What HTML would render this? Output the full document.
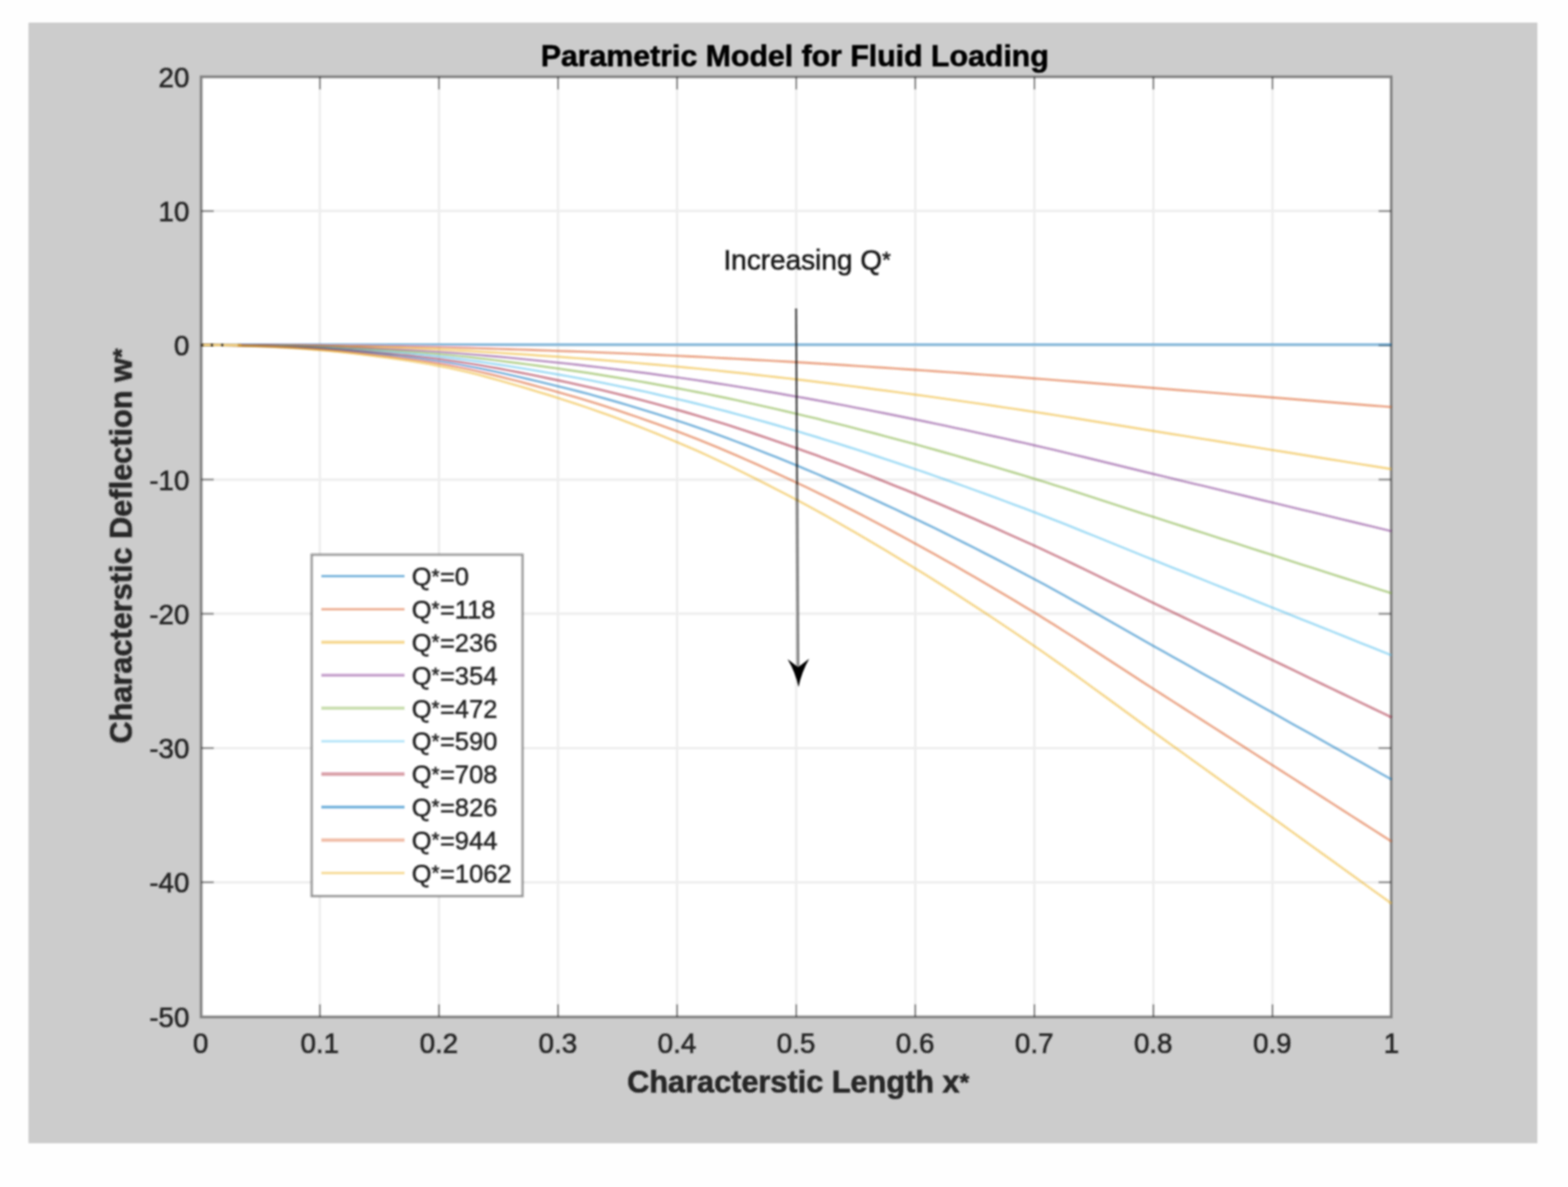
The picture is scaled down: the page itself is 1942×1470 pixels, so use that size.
<!DOCTYPE html>
<html lang="en"><head><meta charset="utf-8"><title>Parametric Model for Fluid Loading</title>
<style>
html,body{margin:0;padding:0;background:#fefefe;}
body{width:1942px;height:1470px;overflow:hidden;position:relative;}
svg{position:absolute;left:0;top:0;display:block;}
text{font-family:"Liberation Sans",Arial,Helvetica,sans-serif;fill:#262626;}
.tick{font-size:35px;stroke:#262626;stroke-width:0.7px;}
.ann{font-size:35px;fill:#1c1c1c;stroke:#1c1c1c;stroke-width:0.7px;}
.ast{font-size:0.8em;}
.lab{font-size:38px;font-weight:bold;stroke:#262626;stroke-width:0.7px;}
.ttl{font-size:37.5px;fill:#000;stroke:#000;}
.leg{font-size:32.2px;stroke:#262626;stroke-width:0.6px;}
</style></head><body>
<svg width="1942" height="1470" viewBox="0 0 1942 1470" role="img" aria-label="Parametric Model for Fluid Loading">
<defs>
<filter id="b" x="-5%" y="-5%" width="110%" height="110%"><feGaussianBlur stdDeviation="1"/></filter>
<filter id="bc" x="-5%" y="-5%" width="110%" height="110%"><feGaussianBlur stdDeviation="1.1"/></filter>
<filter id="bt" x="-5%" y="-5%" width="110%" height="110%"><feGaussianBlur stdDeviation="1.1"/></filter>
<clipPath id="pc"><rect x="249.3" y="95.3" width="1474.8" height="1164.0"/></clipPath>
</defs>
<g filter="url(#b)">
<rect x="35.3" y="28.0" width="1868.8" height="1387.8" fill="#cccccc"/>
<rect x="249.3" y="95.3" width="1473.6" height="1164.0" fill="#ffffff"/>
<path d="M396.2 95.3V1259.3M543.7 95.3V1259.3M691.1 95.3V1259.3M838.6 95.3V1259.3M986.1 95.3V1259.3M1133.6 95.3V1259.3M1281.1 95.3V1259.3M1428.5 95.3V1259.3M1576.0 95.3V1259.3M249.3 261.3H1722.9M249.3 427.6H1722.9M249.3 593.9H1722.9M249.3 760.1H1722.9M249.3 926.4H1722.9M249.3 1092.7H1722.9" stroke="#262626" stroke-opacity="0.08" stroke-width="3" fill="none"/>
<path d="M396.2 95.3v15.5M396.2 1259.3v-15.5M543.7 95.3v15.5M543.7 1259.3v-15.5M691.1 95.3v15.5M691.1 1259.3v-15.5M838.6 95.3v15.5M838.6 1259.3v-15.5M986.1 95.3v15.5M986.1 1259.3v-15.5M1133.6 95.3v15.5M1133.6 1259.3v-15.5M1281.1 95.3v15.5M1281.1 1259.3v-15.5M1428.5 95.3v15.5M1428.5 1259.3v-15.5M1576.0 95.3v15.5M1576.0 1259.3v-15.5" stroke="#262626" stroke-opacity="0.6" stroke-width="2.2" fill="none"/>
<path d="M249.3 261.3h15.5M1722.9 261.3h-15.5M249.3 427.6h15.5M1722.9 427.6h-15.5M249.3 593.9h15.5M1722.9 593.9h-15.5M249.3 760.1h15.5M1722.9 760.1h-15.5M249.3 926.4h15.5M1722.9 926.4h-15.5M249.3 1092.7h15.5M1722.9 1092.7h-15.5" stroke="#262626" stroke-opacity="0.45" stroke-width="2.7" fill="none"/>
<rect x="249.3" y="95.3" width="1473.6" height="1164.0" fill="none" stroke="#262626" stroke-opacity="0.5" stroke-width="3.7"/>
</g>
<g filter="url(#bc)"><g clip-path="url(#pc)" fill="none" stroke-width="2.9" stroke-opacity="0.5" stroke-linejoin="round">
<polyline points="248.7,427.3 261.0,427.3 273.3,427.3 285.6,427.3 297.9,427.3 310.1,427.3 322.4,427.3 334.7,427.3 347.0,427.3 359.3,427.3 371.6,427.3 383.9,427.3 396.2,427.3 408.5,427.3 420.8,427.3 433.0,427.3 445.3,427.3 457.6,427.3 469.9,427.3 482.2,427.3 494.5,427.3 506.8,427.3 519.1,427.3 531.4,427.3 543.7,427.3 556.0,427.3 568.2,427.3 580.5,427.3 592.8,427.3 605.1,427.3 617.4,427.3 629.7,427.3 642.0,427.3 654.3,427.3 666.6,427.3 678.9,427.3 691.1,427.3 703.4,427.3 715.7,427.3 728.0,427.3 740.3,427.3 752.6,427.3 764.9,427.3 777.2,427.3 789.5,427.3 801.8,427.3 814.0,427.3 826.3,427.3 838.6,427.3 850.9,427.3 863.2,427.3 875.5,427.3 887.8,427.3 900.1,427.3 912.4,427.3 924.6,427.3 936.9,427.3 949.2,427.3 961.5,427.3 973.8,427.3 986.1,427.3 998.4,427.3 1010.7,427.3 1023.0,427.3 1035.3,427.3 1047.5,427.3 1059.8,427.3 1072.1,427.3 1084.4,427.3 1096.7,427.3 1109.0,427.3 1121.3,427.3 1133.6,427.3 1145.9,427.3 1158.2,427.3 1170.5,427.3 1182.7,427.3 1195.0,427.3 1207.3,427.3 1219.6,427.3 1231.9,427.3 1244.2,427.3 1256.5,427.3 1268.8,427.3 1281.1,427.3 1293.4,427.3 1305.6,427.3 1317.9,427.3 1330.2,427.3 1342.5,427.3 1354.8,427.3 1367.1,427.3 1379.4,427.3 1391.7,427.3 1404.0,427.3 1416.2,427.3 1428.5,427.3 1440.8,427.3 1453.1,427.3 1465.4,427.3 1477.7,427.3 1490.0,427.3 1502.3,427.3 1514.6,427.3 1526.9,427.3 1539.2,427.3 1551.4,427.3 1563.7,427.3 1576.0,427.3 1588.3,427.3 1600.6,427.3 1612.9,427.3 1625.2,427.3 1637.5,427.3 1649.8,427.3 1662.0,427.3 1674.3,427.3 1686.6,427.3 1698.9,427.3 1711.2,427.3 1723.5,427.3" stroke="#0072bd" stroke-width="3.6" stroke-opacity="0.43" transform="translate(0,-0.5)"/>
<polyline points="248.7,427.3 261.0,427.3 273.3,427.3 285.6,427.3 297.9,427.4 310.1,427.4 322.4,427.4 334.7,427.5 347.0,427.6 359.3,427.7 371.6,427.8 383.9,427.9 396.2,428.0 408.5,428.1 420.8,428.2 433.0,428.4 445.3,428.5 457.6,428.7 469.9,428.9 482.2,429.1 494.5,429.2 506.8,429.4 519.1,429.7 531.4,429.9 543.7,430.1 556.0,430.4 568.2,430.7 580.5,431.0 592.8,431.4 605.1,431.7 617.4,432.1 629.7,432.5 642.0,432.9 654.3,433.3 666.6,433.7 678.9,434.1 691.1,434.6 703.4,435.0 715.7,435.4 728.0,435.9 740.3,436.4 752.6,436.9 764.9,437.4 777.2,437.9 789.5,438.4 801.8,439.0 814.0,439.5 826.3,440.1 838.6,440.6 850.9,441.2 863.2,441.8 875.5,442.4 887.8,443.1 900.1,443.7 912.4,444.4 924.6,445.0 936.9,445.7 949.2,446.4 961.5,447.1 973.8,447.8 986.1,448.5 998.4,449.3 1010.7,450.0 1023.0,450.8 1035.3,451.5 1047.5,452.3 1059.8,453.1 1072.1,453.9 1084.4,454.7 1096.7,455.5 1109.0,456.4 1121.3,457.2 1133.6,458.0 1145.9,458.9 1158.2,459.7 1170.5,460.6 1182.7,461.4 1195.0,462.3 1207.3,463.2 1219.6,464.1 1231.9,465.0 1244.2,465.9 1256.5,466.8 1268.8,467.8 1281.1,468.7 1293.4,469.6 1305.6,470.6 1317.9,471.6 1330.2,472.5 1342.5,473.5 1354.8,474.5 1367.1,475.5 1379.4,476.5 1391.7,477.5 1404.0,478.5 1416.2,479.5 1428.5,480.5 1440.8,481.5 1453.1,482.5 1465.4,483.5 1477.7,484.4 1490.0,485.4 1502.3,486.4 1514.6,487.4 1526.9,488.4 1539.2,489.4 1551.4,490.3 1563.7,491.3 1576.0,492.3 1588.3,493.3 1600.6,494.3 1612.9,495.3 1625.2,496.3 1637.5,497.2 1649.8,498.2 1662.0,499.2 1674.3,500.2 1686.6,501.2 1698.9,502.2 1711.2,503.1 1723.5,504.1" stroke="#d95319"/>
<polyline points="248.7,427.3 261.0,427.3 273.3,427.3 285.6,427.4 297.9,427.5 310.1,427.5 322.4,427.6 334.7,427.7 347.0,427.9 359.3,428.0 371.6,428.2 383.9,428.4 396.2,428.6 408.5,428.9 420.8,429.2 433.0,429.5 445.3,429.8 457.6,430.1 469.9,430.5 482.2,430.8 494.5,431.2 506.8,431.6 519.1,432.1 531.4,432.5 543.7,433.0 556.0,433.6 568.2,434.2 580.5,434.8 592.8,435.5 605.1,436.2 617.4,436.9 629.7,437.7 642.0,438.5 654.3,439.3 666.6,440.2 678.9,441.0 691.1,441.8 703.4,442.7 715.7,443.6 728.0,444.5 740.3,445.5 752.6,446.5 764.9,447.5 777.2,448.5 789.5,449.6 801.8,450.7 814.0,451.7 826.3,452.9 838.6,454.0 850.9,455.2 863.2,456.4 875.5,457.6 887.8,458.9 900.1,460.2 912.4,461.5 924.6,462.8 936.9,464.2 949.2,465.6 961.5,467.0 973.8,468.4 986.1,469.8 998.4,471.3 1010.7,472.8 1023.0,474.3 1035.3,475.8 1047.5,477.4 1059.8,478.9 1072.1,480.5 1084.4,482.2 1096.7,483.8 1109.0,485.4 1121.3,487.1 1133.6,488.8 1145.9,490.4 1158.2,492.1 1170.5,493.9 1182.7,495.6 1195.0,497.4 1207.3,499.1 1219.6,500.9 1231.9,502.7 1244.2,504.6 1256.5,506.4 1268.8,508.3 1281.1,510.1 1293.4,512.0 1305.6,513.9 1317.9,515.9 1330.2,517.8 1342.5,519.8 1354.8,521.8 1367.1,523.8 1379.4,525.8 1391.7,527.8 1404.0,529.8 1416.2,531.8 1428.5,533.7 1440.8,535.7 1453.1,537.7 1465.4,539.6 1477.7,541.6 1490.0,543.6 1502.3,545.5 1514.6,547.5 1526.9,549.5 1539.2,551.5 1551.4,553.4 1563.7,555.4 1576.0,557.4 1588.3,559.3 1600.6,561.3 1612.9,563.3 1625.2,565.2 1637.5,567.2 1649.8,569.2 1662.0,571.1 1674.3,573.1 1686.6,575.1 1698.9,577.0 1711.2,579.0 1723.5,581.0" stroke="#edb120"/>
<polyline points="248.7,427.3 261.0,427.3 273.3,427.4 285.6,427.4 297.9,427.6 310.1,427.7 322.4,427.8 334.7,428.0 347.0,428.2 359.3,428.4 371.6,428.7 383.9,429.0 396.2,429.3 408.5,429.7 420.8,430.1 433.0,430.6 445.3,431.0 457.6,431.5 469.9,432.1 482.2,432.6 494.5,433.2 506.8,433.8 519.1,434.4 531.4,435.1 543.7,435.9 556.0,436.7 568.2,437.6 580.5,438.6 592.8,439.6 605.1,440.7 617.4,441.8 629.7,442.9 642.0,444.1 654.3,445.4 666.6,446.6 678.9,447.9 691.1,449.1 703.4,450.4 715.7,451.8 728.0,453.2 740.3,454.6 752.6,456.1 764.9,457.6 777.2,459.1 789.5,460.7 801.8,462.3 814.0,464.0 826.3,465.7 838.6,467.4 850.9,469.1 863.2,470.9 875.5,472.8 887.8,474.7 900.1,476.6 912.4,478.6 924.6,480.6 936.9,482.6 949.2,484.7 961.5,486.8 973.8,489.0 986.1,491.1 998.4,493.3 1010.7,495.5 1023.0,497.8 1035.3,500.1 1047.5,502.4 1059.8,504.8 1072.1,507.2 1084.4,509.6 1096.7,512.0 1109.0,514.5 1121.3,517.0 1133.6,519.5 1145.9,522.0 1158.2,524.6 1170.5,527.2 1182.7,529.8 1195.0,532.4 1207.3,535.1 1219.6,537.8 1231.9,540.5 1244.2,543.2 1256.5,546.0 1268.8,548.7 1281.1,551.5 1293.4,554.4 1305.6,557.2 1317.9,560.1 1330.2,563.1 1342.5,566.0 1354.8,569.0 1367.1,572.0 1379.4,575.0 1391.7,578.0 1404.0,581.0 1416.2,584.0 1428.5,587.0 1440.8,589.9 1453.1,592.9 1465.4,595.8 1477.7,598.8 1490.0,601.7 1502.3,604.7 1514.6,607.6 1526.9,610.6 1539.2,613.5 1551.4,616.5 1563.7,619.5 1576.0,622.4 1588.3,625.4 1600.6,628.3 1612.9,631.3 1625.2,634.2 1637.5,637.2 1649.8,640.1 1662.0,643.1 1674.3,646.0 1686.6,649.0 1698.9,651.9 1711.2,654.9 1723.5,657.8" stroke="#7e2f8e"/>
<polyline points="248.7,427.3 261.0,427.3 273.3,427.4 285.6,427.5 297.9,427.6 310.1,427.8 322.4,428.0 334.7,428.2 347.0,428.5 359.3,428.8 371.6,429.2 383.9,429.6 396.2,430.0 408.5,430.5 420.8,431.0 433.0,431.6 445.3,432.3 457.6,433.0 469.9,433.7 482.2,434.4 494.5,435.2 506.8,436.0 519.1,436.8 531.4,437.8 543.7,438.8 556.0,439.9 568.2,441.1 580.5,442.3 592.8,443.7 605.1,445.1 617.4,446.6 629.7,448.2 642.0,449.8 654.3,451.4 666.6,453.0 678.9,454.7 691.1,456.4 703.4,458.2 715.7,460.0 728.0,461.8 740.3,463.7 752.6,465.7 764.9,467.7 777.2,469.8 789.5,471.9 801.8,474.0 814.0,476.2 826.3,478.5 838.6,480.7 850.9,483.1 863.2,485.5 875.5,487.9 887.8,490.5 900.1,493.0 912.4,495.7 924.6,498.4 936.9,501.1 949.2,503.9 961.5,506.7 973.8,509.5 986.1,512.4 998.4,515.3 1010.7,518.2 1023.0,521.3 1035.3,524.3 1047.5,527.4 1059.8,530.6 1072.1,533.8 1084.4,537.0 1096.7,540.3 1109.0,543.6 1121.3,546.9 1133.6,550.2 1145.9,553.6 1158.2,557.0 1170.5,560.5 1182.7,563.9 1195.0,567.5 1207.3,571.0 1219.6,574.6 1231.9,578.2 1244.2,581.9 1256.5,585.5 1268.8,589.2 1281.1,593.0 1293.4,596.7 1305.6,600.6 1317.9,604.4 1330.2,608.4 1342.5,612.3 1354.8,616.3 1367.1,620.3 1379.4,624.3 1391.7,628.3 1404.0,632.3 1416.2,636.3 1428.5,640.2 1440.8,644.1 1453.1,648.1 1465.4,652.0 1477.7,656.0 1490.0,659.9 1502.3,663.8 1514.6,667.8 1526.9,671.7 1539.2,675.6 1551.4,679.6 1563.7,683.5 1576.0,687.4 1588.3,691.4 1600.6,695.3 1612.9,699.3 1625.2,703.2 1637.5,707.1 1649.8,711.1 1662.0,715.0 1674.3,718.9 1686.6,722.9 1698.9,726.8 1711.2,730.8 1723.5,734.7" stroke="#77ac30"/>
<polyline points="248.7,427.3 261.0,427.3 273.3,427.4 285.6,427.6 297.9,427.7 310.1,427.9 322.4,428.2 334.7,428.4 347.0,428.8 359.3,429.2 371.6,429.7 383.9,430.2 396.2,430.7 408.5,431.3 420.8,432.0 433.0,432.7 445.3,433.5 457.6,434.4 469.9,435.3 482.2,436.2 494.5,437.1 506.8,438.1 519.1,439.2 531.4,440.4 543.7,441.7 556.0,443.0 568.2,444.5 580.5,446.1 592.8,447.8 605.1,449.6 617.4,451.5 629.7,453.4 642.0,455.4 654.3,457.4 666.6,459.5 678.9,461.6 691.1,463.7 703.4,465.9 715.7,468.1 728.0,470.4 740.3,472.8 752.6,475.3 764.9,477.8 777.2,480.4 789.5,483.0 801.8,485.7 814.0,488.5 826.3,491.3 838.6,494.1 850.9,497.0 863.2,500.0 875.5,503.1 887.8,506.3 900.1,509.5 912.4,512.8 924.6,516.2 936.9,519.6 949.2,523.0 961.5,526.5 973.8,530.1 986.1,533.7 998.4,537.3 1010.7,541.0 1023.0,544.8 1035.3,548.6 1047.5,552.5 1059.8,556.4 1072.1,560.4 1084.4,564.5 1096.7,568.6 1109.0,572.7 1121.3,576.8 1133.6,581.0 1145.9,585.2 1158.2,589.5 1170.5,593.8 1182.7,598.1 1195.0,602.5 1207.3,607.0 1219.6,611.4 1231.9,615.9 1244.2,620.5 1256.5,625.1 1268.8,629.7 1281.1,634.4 1293.4,639.1 1305.6,643.9 1317.9,648.7 1330.2,653.6 1342.5,658.6 1354.8,663.5 1367.1,668.5 1379.4,673.5 1391.7,678.5 1404.0,683.5 1416.2,688.5 1428.5,693.4 1440.8,698.4 1453.1,703.3 1465.4,708.2 1477.7,713.1 1490.0,718.0 1502.3,723.0 1514.6,727.9 1526.9,732.8 1539.2,737.7 1551.4,742.7 1563.7,747.6 1576.0,752.5 1588.3,757.4 1600.6,762.3 1612.9,767.3 1625.2,772.2 1637.5,777.1 1649.8,782.0 1662.0,786.9 1674.3,791.9 1686.6,796.8 1698.9,801.7 1711.2,806.6 1723.5,811.5" stroke="#4dbeee"/>
<polyline points="248.7,427.3 261.0,427.3 273.3,427.4 285.6,427.6 297.9,427.8 310.1,428.1 322.4,428.3 334.7,428.7 347.0,429.1 359.3,429.6 371.6,430.1 383.9,430.8 396.2,431.4 408.5,432.1 420.8,432.9 433.0,433.8 445.3,434.8 457.6,435.8 469.9,436.9 482.2,438.0 494.5,439.1 506.8,440.3 519.1,441.6 531.4,443.0 543.7,444.5 556.0,446.2 568.2,448.0 580.5,449.9 592.8,451.9 605.1,454.1 617.4,456.3 629.7,458.6 642.0,461.0 654.3,463.4 666.6,465.9 678.9,468.5 691.1,471.0 703.4,473.6 715.7,476.3 728.0,479.1 740.3,481.9 752.6,484.9 764.9,487.9 777.2,491.0 789.5,494.2 801.8,497.4 814.0,500.7 826.3,504.1 838.6,507.5 850.9,511.0 863.2,514.6 875.5,518.3 887.8,522.1 900.1,525.9 912.4,529.9 924.6,533.9 936.9,538.0 949.2,542.2 961.5,546.4 973.8,550.6 986.1,554.9 998.4,559.3 1010.7,563.7 1023.0,568.3 1035.3,572.9 1047.5,577.5 1059.8,582.3 1072.1,587.1 1084.4,591.9 1096.7,596.8 1109.0,601.8 1121.3,606.7 1133.6,611.7 1145.9,616.8 1158.2,621.9 1170.5,627.1 1182.7,632.3 1195.0,637.6 1207.3,642.9 1219.6,648.3 1231.9,653.7 1244.2,659.2 1256.5,664.7 1268.8,670.2 1281.1,675.8 1293.4,681.5 1305.6,687.2 1317.9,693.0 1330.2,698.9 1342.5,704.8 1354.8,710.8 1367.1,716.8 1379.4,722.8 1391.7,728.8 1404.0,734.8 1416.2,740.7 1428.5,746.7 1440.8,752.6 1453.1,758.5 1465.4,764.4 1477.7,770.3 1490.0,776.2 1502.3,782.1 1514.6,788.0 1526.9,793.9 1539.2,799.8 1551.4,805.7 1563.7,811.6 1576.0,817.5 1588.3,823.4 1600.6,829.3 1612.9,835.3 1625.2,841.2 1637.5,847.1 1649.8,853.0 1662.0,858.9 1674.3,864.8 1686.6,870.7 1698.9,876.6 1711.2,882.5 1723.5,888.4" stroke="#a2142f"/>
<polyline points="248.7,427.3 261.0,427.3 273.3,427.5 285.6,427.7 297.9,427.9 310.1,428.2 322.4,428.5 334.7,428.9 347.0,429.4 359.3,430.0 371.6,430.6 383.9,431.3 396.2,432.1 408.5,432.9 420.8,433.9 433.0,434.9 445.3,436.1 457.6,437.2 469.9,438.5 482.2,439.7 494.5,441.1 506.8,442.5 519.1,444.0 531.4,445.7 543.7,447.4 556.0,449.3 568.2,451.4 580.5,453.7 592.8,456.0 605.1,458.5 617.4,461.1 629.7,463.8 642.0,466.6 654.3,469.5 666.6,472.4 678.9,475.3 691.1,478.3 703.4,481.3 715.7,484.5 728.0,487.7 740.3,491.1 752.6,494.5 764.9,498.0 777.2,501.6 789.5,505.3 801.8,509.1 814.0,512.9 826.3,516.9 838.6,520.8 850.9,524.9 863.2,529.1 875.5,533.4 887.8,537.9 900.1,542.4 912.4,547.0 924.6,551.7 936.9,556.5 949.2,561.3 961.5,566.2 973.8,571.2 986.1,576.2 998.4,581.3 1010.7,586.5 1023.0,591.8 1035.3,597.1 1047.5,602.6 1059.8,608.1 1072.1,613.7 1084.4,619.4 1096.7,625.1 1109.0,630.8 1121.3,636.6 1133.6,642.5 1145.9,648.4 1158.2,654.3 1170.5,660.4 1182.7,666.5 1195.0,672.6 1207.3,678.8 1219.6,685.1 1231.9,691.4 1244.2,697.8 1256.5,704.2 1268.8,710.7 1281.1,717.2 1293.4,723.8 1305.6,730.5 1317.9,737.3 1330.2,744.2 1342.5,751.1 1354.8,758.0 1367.1,765.0 1379.4,772.0 1391.7,779.0 1404.0,786.0 1416.2,793.0 1428.5,799.9 1440.8,806.8 1453.1,813.7 1465.4,820.6 1477.7,827.5 1490.0,834.4 1502.3,841.2 1514.6,848.1 1526.9,855.0 1539.2,861.9 1551.4,868.8 1563.7,875.7 1576.0,882.6 1588.3,889.5 1600.6,896.4 1612.9,903.3 1625.2,910.1 1637.5,917.0 1649.8,923.9 1662.0,930.8 1674.3,937.7 1686.6,944.6 1698.9,951.5 1711.2,958.4 1723.5,965.3" stroke="#0072bd"/>
<polyline points="248.7,427.3 261.0,427.3 273.3,427.5 285.6,427.7 297.9,428.0 310.1,428.3 322.4,428.7 334.7,429.1 347.0,429.7 359.3,430.3 371.6,431.1 383.9,431.9 396.2,432.8 408.5,433.7 420.8,434.8 433.0,436.0 445.3,437.3 457.6,438.7 469.9,440.1 482.2,441.5 494.5,443.1 506.8,444.7 519.1,446.4 531.4,448.3 543.7,450.3 556.0,452.5 568.2,454.9 580.5,457.4 592.8,460.1 605.1,463.0 617.4,466.0 629.7,469.1 642.0,472.2 654.3,475.5 666.6,478.8 678.9,482.2 691.1,485.6 703.4,489.1 715.7,492.6 728.0,496.4 740.3,500.2 752.6,504.1 764.9,508.1 777.2,512.3 789.5,516.5 801.8,520.8 814.0,525.2 826.3,529.7 838.6,534.2 850.9,538.9 863.2,543.7 875.5,548.6 887.8,553.7 900.1,558.8 912.4,564.1 924.6,569.5 936.9,574.9 949.2,580.5 961.5,586.1 973.8,591.8 986.1,597.5 998.4,603.3 1010.7,609.2 1023.0,615.3 1035.3,621.4 1047.5,627.6 1059.8,633.9 1072.1,640.3 1084.4,646.8 1096.7,653.3 1109.0,659.9 1121.3,666.6 1133.6,673.2 1145.9,680.0 1158.2,686.8 1170.5,693.7 1182.7,700.6 1195.0,707.7 1207.3,714.8 1219.6,721.9 1231.9,729.2 1244.2,736.4 1256.5,743.8 1268.8,751.2 1281.1,758.6 1293.4,766.2 1305.6,773.8 1317.9,781.6 1330.2,789.4 1342.5,797.3 1354.8,805.3 1367.1,813.3 1379.4,821.3 1391.7,829.3 1404.0,837.3 1416.2,845.2 1428.5,853.1 1440.8,861.0 1453.1,868.9 1465.4,876.8 1477.7,884.6 1490.0,892.5 1502.3,900.4 1514.6,908.3 1526.9,916.1 1539.2,924.0 1551.4,931.9 1563.7,939.8 1576.0,947.6 1588.3,955.5 1600.6,963.4 1612.9,971.2 1625.2,979.1 1637.5,987.0 1649.8,994.9 1662.0,1002.7 1674.3,1010.6 1686.6,1018.5 1698.9,1026.4 1711.2,1034.2 1723.5,1042.1" stroke="#d95319"/>
<polyline points="248.7,427.3 261.0,427.3 273.3,427.5 285.6,427.8 297.9,428.1 310.1,428.5 322.4,428.9 334.7,429.4 347.0,430.0 359.3,430.7 371.6,431.6 383.9,432.5 396.2,433.5 408.5,434.5 420.8,435.8 433.0,437.1 445.3,438.6 457.6,440.1 469.9,441.7 482.2,443.3 494.5,445.0 506.8,446.9 519.1,448.8 531.4,450.9 543.7,453.2 556.0,455.6 568.2,458.3 580.5,461.2 592.8,464.2 605.1,467.5 617.4,470.8 629.7,474.3 642.0,477.9 654.3,481.5 666.6,485.3 678.9,489.0 691.1,492.9 703.4,496.8 715.7,500.8 728.0,505.0 740.3,509.3 752.6,513.7 764.9,518.2 777.2,522.9 789.5,527.6 801.8,532.5 814.0,537.4 826.3,542.5 838.6,547.6 850.9,552.8 863.2,558.2 875.5,563.8 887.8,569.5 900.1,575.3 912.4,581.2 924.6,587.3 936.9,593.4 949.2,599.6 961.5,606.0 973.8,612.3 986.1,618.8 998.4,625.3 1010.7,632.0 1023.0,638.8 1035.3,645.7 1047.5,652.7 1059.8,659.8 1072.1,667.0 1084.4,674.2 1096.7,681.6 1109.0,689.0 1121.3,696.5 1133.6,704.0 1145.9,711.5 1158.2,719.2 1170.5,727.0 1182.7,734.8 1195.0,742.7 1207.3,750.7 1219.6,758.8 1231.9,766.9 1244.2,775.1 1256.5,783.4 1268.8,791.7 1281.1,800.1 1293.4,808.6 1305.6,817.2 1317.9,825.9 1330.2,834.7 1342.5,843.6 1354.8,852.6 1367.1,861.5 1379.4,870.5 1391.7,879.5 1404.0,888.5 1416.2,897.5 1428.5,906.4 1440.8,915.2 1453.1,924.1 1465.4,932.9 1477.7,941.8 1490.0,950.7 1502.3,959.5 1514.6,968.4 1526.9,977.2 1539.2,986.1 1551.4,995.0 1563.7,1003.8 1576.0,1012.7 1588.3,1021.5 1600.6,1030.4 1612.9,1039.2 1625.2,1048.1 1637.5,1057.0 1649.8,1065.8 1662.0,1074.7 1674.3,1083.5 1686.6,1092.4 1698.9,1101.3 1711.2,1110.1 1723.5,1119.0" stroke="#edb120"/>
<path d="M250.8 427.3H294.4" stroke="#ffffff" stroke-opacity="0.8" stroke-width="3.6"/>
<path d="M250.8 427.3H298.8" stroke="#edb120" stroke-opacity="0.55" stroke-width="3"/>
<rect x="249.0" y="425.7" width="3.2" height="3.2" fill="#1a1a1a" fill-opacity="0.9"/>
<rect x="260.9" y="425.7" width="3.2" height="3.2" fill="#1a1a1a" fill-opacity="0.9"/>
<rect x="273.7" y="425.7" width="3.2" height="3.2" fill="#1a1a1a" fill-opacity="0.9"/>
</g></g>
<g filter="url(#b)">
<path d="M986 382L987.2 600" stroke="#000" stroke-opacity="0.66" stroke-width="2.6" fill="none"/>
<path d="M987.2 600L988.4 828" stroke="#000" stroke-opacity="0.45" stroke-width="3.6" fill="none"/>
<path d="M989 851Q985.4 833 975.4 816.2L988.5 826.2L1002.2 815.8Q992.6 833 989 851Z" fill="#000"/>
<rect x="386.1" y="687.0" width="261.0" height="422.7" fill="#ffffff" stroke="#262626" stroke-opacity="0.52" stroke-width="2.9"/>
</g>
<g filter="url(#bc)" fill="none">
<path d="M398 713.6H501" stroke="#0072bd" stroke-width="3.0" stroke-opacity="0.50"/>
<path d="M398 754.5H501" stroke="#d95319" stroke-width="3.0" stroke-opacity="0.45"/>
<path d="M398 795.3H501" stroke="#edb120" stroke-width="3.8" stroke-opacity="0.50"/>
<path d="M398 836.2H501" stroke="#7e2f8e" stroke-width="3.4" stroke-opacity="0.45"/>
<path d="M398 877.0H501" stroke="#77ac30" stroke-width="4.2" stroke-opacity="0.38"/>
<path d="M398 917.9H501" stroke="#4dbeee" stroke-width="3.0" stroke-opacity="0.42"/>
<path d="M398 958.7H501" stroke="#a2142f" stroke-width="4.2" stroke-opacity="0.42"/>
<path d="M398 999.5H501" stroke="#0072bd" stroke-width="3.4" stroke-opacity="0.55"/>
<path d="M398 1040.4H501" stroke="#d95319" stroke-width="4.2" stroke-opacity="0.38"/>
<path d="M398 1081.2H501" stroke="#edb120" stroke-width="2.8" stroke-opacity="0.50"/>
</g>
<g filter="url(#bt)">
<text class="tick" transform="translate(248.5,1303.8) scale(0.980,1)" text-anchor="middle">0</text>
<text class="tick" transform="translate(396.0,1303.8) scale(0.980,1)" text-anchor="middle">0.1</text>
<text class="tick" transform="translate(543.5,1303.8) scale(0.980,1)" text-anchor="middle">0.2</text>
<text class="tick" transform="translate(690.9,1303.8) scale(0.980,1)" text-anchor="middle">0.3</text>
<text class="tick" transform="translate(838.4,1303.8) scale(0.980,1)" text-anchor="middle">0.4</text>
<text class="tick" transform="translate(985.9,1303.8) scale(0.980,1)" text-anchor="middle">0.5</text>
<text class="tick" transform="translate(1133.4,1303.8) scale(0.980,1)" text-anchor="middle">0.6</text>
<text class="tick" transform="translate(1280.9,1303.8) scale(0.980,1)" text-anchor="middle">0.7</text>
<text class="tick" transform="translate(1428.3,1303.8) scale(0.980,1)" text-anchor="middle">0.8</text>
<text class="tick" transform="translate(1575.8,1303.8) scale(0.980,1)" text-anchor="middle">0.9</text>
<text class="tick" transform="translate(1723.3,1303.8) scale(0.980,1)" text-anchor="middle">1</text>
<text class="tick" transform="translate(234.5,107.6) scale(0.980,1)" text-anchor="end">20</text>
<text class="tick" transform="translate(234.5,273.9) scale(0.980,1)" text-anchor="end">10</text>
<text class="tick" transform="translate(234.5,440.2) scale(0.980,1)" text-anchor="end">0</text>
<text class="tick" transform="translate(234.5,606.5) scale(0.980,1)" text-anchor="end">-10</text>
<text class="tick" transform="translate(234.5,772.7) scale(0.980,1)" text-anchor="end">-20</text>
<text class="tick" transform="translate(234.5,939.0) scale(0.980,1)" text-anchor="end">-30</text>
<text class="tick" transform="translate(234.5,1105.3) scale(0.980,1)" text-anchor="end">-40</text>
<text class="tick" transform="translate(234.5,1271.6) scale(0.980,1)" text-anchor="end">-50</text>
<text class="lab ttl" transform="translate(984.3,81.6)" text-anchor="middle">Parametric Model for Fluid Loading</text>
<text class="lab" transform="translate(988.5,1353.0)" text-anchor="middle">Characterstic Length x<tspan class="ast" dy="-0.1em">*</tspan></text>
<text class="lab" transform="translate(163.2,676.3) rotate(-90)" text-anchor="middle">Characterstic Deflection w<tspan class="ast" dy="-0.1em">*</tspan></text>
<text class="ann" transform="translate(896.0,334.0) scale(0.990,1)">Increasing Q<tspan class="ast" dy="-0.1em">*</tspan></text>
<text class="leg" transform="translate(510.0,725.1) scale(0.980,1)">Q<tspan class="ast" dy="-0.1em">*</tspan><tspan dy="0.080em" dx="0.6">=0</tspan></text>
<text class="leg" transform="translate(510.0,766.0) scale(0.980,1)">Q<tspan class="ast" dy="-0.1em">*</tspan><tspan dy="0.080em" dx="0.6">=118</tspan></text>
<text class="leg" transform="translate(510.0,806.8) scale(0.980,1)">Q<tspan class="ast" dy="-0.1em">*</tspan><tspan dy="0.080em" dx="0.6">=236</tspan></text>
<text class="leg" transform="translate(510.0,847.7) scale(0.980,1)">Q<tspan class="ast" dy="-0.1em">*</tspan><tspan dy="0.080em" dx="0.6">=354</tspan></text>
<text class="leg" transform="translate(510.0,888.5) scale(0.980,1)">Q<tspan class="ast" dy="-0.1em">*</tspan><tspan dy="0.080em" dx="0.6">=472</tspan></text>
<text class="leg" transform="translate(510.0,929.4) scale(0.980,1)">Q<tspan class="ast" dy="-0.1em">*</tspan><tspan dy="0.080em" dx="0.6">=590</tspan></text>
<text class="leg" transform="translate(510.0,970.2) scale(0.980,1)">Q<tspan class="ast" dy="-0.1em">*</tspan><tspan dy="0.080em" dx="0.6">=708</tspan></text>
<text class="leg" transform="translate(510.0,1011.0) scale(0.980,1)">Q<tspan class="ast" dy="-0.1em">*</tspan><tspan dy="0.080em" dx="0.6">=826</tspan></text>
<text class="leg" transform="translate(510.0,1051.9) scale(0.980,1)">Q<tspan class="ast" dy="-0.1em">*</tspan><tspan dy="0.080em" dx="0.6">=944</tspan></text>
<text class="leg" transform="translate(510.0,1092.8) scale(0.980,1)">Q<tspan class="ast" dy="-0.1em">*</tspan><tspan dy="0.080em" dx="0.6">=1062</tspan></text>
</g>
</svg>
</body></html>
